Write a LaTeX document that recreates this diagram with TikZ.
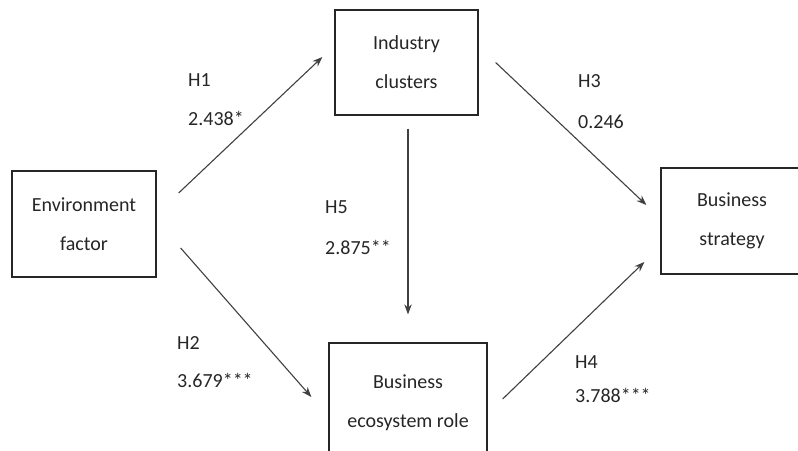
\documentclass[tikz,border=0pt]{standalone}
\usepackage{fontspec}
\setmainfont{Carlito}
\usetikzlibrary{arrows.meta}

\begin{document}
\begin{tikzpicture}[x=1pt, y=-1pt]
  \tikzset{
    box/.style={
      draw=black!85, line width=1.3pt, rectangle, inner sep=0pt,
      align=center, font=\fontsize{20}{39}\selectfont, text=black!85
    },
    link/.style={
      draw=black!75, line width=1.1pt, -{Stealth[length=10pt,width=7.5pt]}
    },
    tag/.style={
      anchor=west, inner sep=0pt, font=\fontsize{20}{24}\selectfont, text=black!85
    }
  }

  \useasboundingbox (0,0) rectangle (798,450);
  \clip (0,0) rectangle (798,450);

  \node [box, minimum width=144pt, minimum height=106pt] (env) at (84,224) {Environment\\factor};
  \node [box, minimum width=143pt, minimum height=105pt] (ind) at (406.5,62.5) {Industry\\clusters};
  \node [box, minimum width=158pt, minimum height=119pt] (eco) at (408,402.5) {Business\\ecosystem role};
  \node [box, minimum width=142pt, minimum height=106pt] (str) at (732,221) {Business\\strategy};

  \draw [link] ([xshift=22pt,yshift=31pt]env.east) -- ([xshift=-12pt,yshift=5.5pt]ind.west);
  \draw [link] ([xshift=24pt,yshift=-24pt]env.east) -- ([xshift=-17pt,yshift=5.5pt]eco.west);
  \draw [link] ([xshift=17pt]ind.east) -- ([xshift=-14pt,yshift=16pt]str.west);
  \draw [link] ([xshift=15pt,yshift=3.5pt]eco.east) -- ([xshift=-16pt,yshift=-41pt]str.west);
  \draw [link] ([xshift=1.5pt,yshift=-13pt]ind.south) -- ([yshift=28pt]eco.north);

  % hypothesis names with their path coefficients
  \foreach \i/\val/\x/\y/\v in {1/2.438*/188/80/118, 2/3.679***/177/343/380,
      3/0.246/578/81/122, 4/3.788***/575/362/395, 5/2.875**/325/207/247} {
    \node [tag] (h\i) at (\x,\y) {H\i};
    \node [tag] (v\i) at (\x,\v) {\val};
  }
\end{tikzpicture}
\end{document}
